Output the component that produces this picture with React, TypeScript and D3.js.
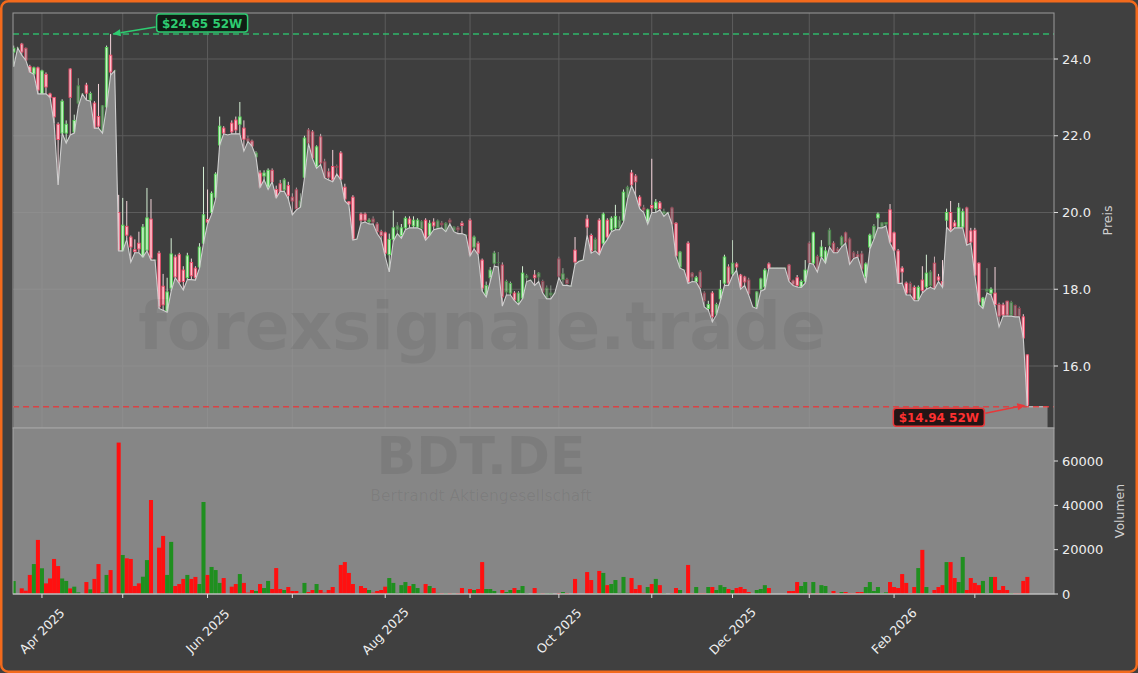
import React from "react";
import * as d3 from "d3";

const OPEN = [24.18,24.29,24.39,24.28,23.80,23.61,23.77,23.09,23.60,23.09,
23.00,22.30,22.07,22.07,23.74,22.10,22.85,23.09,23.32,22.93,
22.85,22.50,22.10,22.75,24.10,23.69,20.00,19.00,19.64,19.36,
19.03,19.20,18.84,19.02,19.83,18.76,18.94,18.08,17.43,18.03,
18.84,18.90,18.50,18.30,18.70,18.55,18.58,19.20,19.82,20.00,
20.40,21.76,22.20,22.02,22.33,22.41,22.30,22.20,21.92,21.86,
21.45,21.03,20.95,20.66,21.10,20.60,20.75,20.59,20.70,20.40,
20.59,20.15,20.92,22.15,22.10,21.19,21.97,21.32,21.06,21.20,
21.20,21.55,20.66,20.28,20.40,19.31,19.96,19.96,19.76,19.83,
19.70,19.50,19.47,18.90,19.30,19.55,19.40,19.60,19.83,19.65,
19.62,19.58,19.80,19.41,19.75,19.60,19.72,19.52,19.80,19.52,
19.60,19.72,19.41,19.80,19.10,19.20,18.76,17.85,18.30,18.68,
18.70,18.63,17.93,17.90,17.90,17.67,17.77,18.30,18.24,18.37,
18.32,18.20,17.77,17.85,17.90,18.79,18.25,18.25,18.08,19.02,
18.73,18.76,19.83,19.40,19.02,19.80,19.20,19.80,19.55,19.60,
19.60,19.80,20.40,21.03,20.95,20.40,20.12,19.75,20.18,20.10,
20.25,19.96,20.00,20.12,19.72,18.58,18.50,19.20,18.42,18.20,
18.45,17.90,17.50,17.90,17.35,17.75,18.16,18.58,18.40,18.66,
18.37,18.32,18.24,17.54,17.54,18.00,18.06,18.66,18.55,18.55,
18.55,18.55,18.63,18.22,18.30,18.06,18.20,19.20,18.68,18.85,
18.85,18.70,19.15,19.20,19.05,19.15,19.47,19.31,18.95,18.90,
18.92,18.32,19.10,19.33,19.86,19.62,19.70,20.07,19.47,19.00,
18.55,18.16,18.15,18.05,17.74,18.24,18.06,18.10,18.68,18.32,
18.20,19.80,20.00,19.73,19.62,19.62,20.12,19.52,19.54,18.68,
17.54,17.95,17.90,17.90,17.60,17.59,17.69,17.33,17.58,17.50,
17.28,16.29];

const HIGH = [24.35,24.29,24.42,24.30,23.85,23.80,23.80,23.72,23.65,23.12,
23.00,22.35,22.95,22.40,23.76,22.55,23.50,23.09,23.38,23.15,
22.90,23.35,22.80,24.35,24.65,23.69,20.46,20.38,20.30,19.40,
19.30,19.50,19.70,20.64,20.35,18.76,19.00,18.40,18.30,19.33,
18.90,18.95,18.60,18.95,18.80,18.60,19.20,21.19,20.60,20.55,
21.05,22.50,22.25,22.02,22.40,22.50,22.88,22.40,22.00,21.90,
21.60,21.10,21.10,21.15,21.15,20.70,20.85,20.90,20.80,20.50,
20.65,20.50,22.00,22.20,22.15,21.75,22.05,21.40,21.15,21.63,
21.25,21.60,20.75,20.30,20.45,19.31,20.00,20.00,19.85,19.90,
19.75,19.55,19.50,19.45,20.05,19.75,19.70,19.90,19.90,19.90,
19.85,19.80,19.85,19.80,19.85,19.82,19.78,19.75,19.85,19.65,
19.65,19.78,19.41,19.85,19.40,19.25,18.80,18.20,18.58,19.00,
18.97,18.70,18.25,18.20,17.95,17.95,18.60,18.40,18.24,18.50,
18.45,18.25,18.10,18.10,17.90,18.85,18.55,18.30,18.08,19.36,
18.73,18.76,19.94,19.45,19.35,19.85,20.00,19.85,19.90,20.20,
19.90,20.60,20.70,21.11,21.00,20.45,20.20,20.10,21.40,20.35,
20.30,20.10,20.00,20.15,19.75,19.00,18.50,19.25,18.45,18.35,
18.50,17.95,17.70,17.95,17.65,18.24,18.90,18.65,19.28,18.70,
18.40,18.35,18.30,17.54,17.95,18.30,18.55,18.70,18.55,18.55,
18.55,18.55,18.66,18.25,18.37,18.25,18.76,19.25,19.50,18.90,
19.28,19.10,19.60,19.25,19.10,19.40,19.50,19.35,19.00,19.00,
19.00,18.70,19.45,19.70,20.00,19.75,19.75,20.22,19.50,19.05,
18.60,18.20,18.20,18.10,18.10,18.60,18.90,18.50,18.85,18.40,
18.76,20.10,20.30,19.80,20.25,20.10,20.15,19.60,19.60,18.70,
17.80,18.55,18.05,18.58,17.65,17.65,17.70,17.70,17.60,17.55,
17.35,16.30];

const LOW = [23.80,24.29,24.10,23.97,23.66,23.60,23.09,23.09,23.09,23.00,
22.33,20.72,22.07,21.81,22.02,22.07,22.75,23.09,22.93,22.90,
22.20,22.20,22.07,22.75,23.58,23.69,19.00,19.00,19.30,18.71,
18.95,18.95,18.84,19.00,18.76,18.76,17.50,17.45,17.40,17.95,
18.30,18.15,17.98,18.25,18.25,18.24,18.55,19.20,19.70,19.95,
20.35,21.76,22.05,22.02,22.05,22.05,22.05,21.60,21.85,21.73,
21.45,20.66,20.85,20.60,20.80,20.38,20.55,20.55,20.35,19.94,
20.07,20.14,20.90,21.80,21.40,21.15,21.25,20.90,20.85,20.80,
21.00,20.85,20.30,20.20,19.28,19.31,19.72,19.75,19.70,19.70,
19.45,19.30,18.85,18.45,19.25,19.45,19.33,19.55,19.60,19.60,
19.60,19.55,19.28,19.40,19.55,19.58,19.60,19.50,19.70,19.50,
19.45,19.45,19.41,18.87,19.05,18.90,17.95,17.80,18.20,18.60,
18.58,17.56,17.85,17.85,17.70,17.60,17.75,18.20,18.24,18.10,
18.20,17.90,17.75,17.75,17.90,18.30,18.10,18.10,18.08,18.65,
18.73,18.76,19.41,18.94,19.00,18.90,19.15,19.30,19.50,19.55,
19.55,19.75,20.35,20.70,20.45,20.10,20.00,19.70,20.00,20.00,
20.07,19.90,20.00,19.70,18.85,18.55,18.50,18.15,18.20,18.19,
18.00,17.54,17.46,17.15,17.33,17.70,18.10,18.10,18.35,18.50,
18.00,18.10,17.85,17.54,17.50,17.95,18.00,18.55,18.55,18.55,
18.55,18.55,18.20,18.10,18.06,18.05,18.16,18.68,18.65,18.45,
18.84,18.68,19.10,18.95,18.95,19.10,19.20,18.65,18.80,18.84,
18.50,18.16,19.05,19.30,19.60,19.60,19.65,19.20,19.00,18.15,
18.16,17.85,17.85,17.70,17.70,17.90,18.00,18.05,18.00,18.20,
18.05,19.62,19.50,19.60,19.60,19.60,19.15,19.20,18.35,17.60,
17.50,17.90,17.85,17.54,17.02,17.30,17.30,17.30,17.28,17.28,
16.73,14.94];

const CLOSE = [24.28,24.29,24.18,23.97,23.66,23.77,23.19,23.69,23.27,23.00,
22.49,21.90,22.90,22.30,23.00,22.40,23.30,23.09,23.11,23.10,
22.20,22.25,22.78,24.30,23.66,23.69,19.02,19.67,19.41,19.10,
18.98,19.05,19.62,19.86,18.81,18.76,17.54,17.59,17.93,18.92,
18.32,18.19,18.20,18.87,18.35,18.30,19.10,19.94,19.75,20.50,
21.00,22.25,22.07,22.02,22.10,22.15,22.49,21.91,21.86,21.73,
21.55,20.66,21.03,21.10,20.80,20.40,20.55,20.85,20.45,20.30,
20.10,20.30,21.94,21.81,21.42,21.71,21.29,20.90,20.92,20.85,
21.18,20.87,20.35,20.22,19.31,19.31,19.80,19.80,19.80,19.75,
19.50,19.40,18.94,19.30,19.60,19.65,19.60,19.85,19.70,19.80,
19.80,19.76,19.31,19.72,19.65,19.78,19.68,19.72,19.75,19.62,
19.55,19.66,19.41,18.89,19.36,18.94,18.03,18.10,18.50,18.94,
18.70,17.80,18.20,18.15,17.72,17.90,18.42,18.35,18.24,18.30,
18.42,17.93,18.03,17.90,17.90,18.34,18.40,18.15,18.08,18.71,
18.73,18.76,19.62,19.00,19.30,18.94,19.96,19.36,19.85,19.90,
19.80,20.53,20.66,20.72,20.80,20.17,20.07,20.07,20.12,20.27,
20.10,20.02,20.00,19.70,18.87,18.97,18.50,18.19,18.32,18.30,
18.05,17.70,17.60,17.28,17.60,18.00,18.84,18.16,18.68,18.58,
18.06,18.19,17.88,17.54,17.93,18.27,18.50,18.55,18.55,18.55,
18.55,18.55,18.24,18.13,18.10,18.20,18.50,18.70,19.47,18.50,
19.10,19.00,19.54,18.97,18.98,19.36,19.23,18.68,18.82,18.85,
18.53,18.66,19.41,19.64,19.96,19.73,19.74,19.23,19.02,18.16,
18.45,17.90,17.90,17.74,18.05,17.97,18.42,18.45,18.03,18.24,
18.08,20.00,19.54,19.64,20.12,20.02,19.20,19.23,18.37,17.67,
17.77,18.00,18.00,17.60,17.30,17.33,17.33,17.65,17.30,17.30,
16.73,14.98];

const VOLUME = [5850,0,2550,1500,8600,13500,24400,11600,4800,7000,
15800,12600,7000,5900,2500,3300,750,0,5400,2100,
6800,13500,750,8600,10800,0,68300,17600,16100,15800,
3600,4800,7800,15300,42400,0,20900,26200,8600,23500,
3600,4500,6800,8600,6800,7700,4500,41500,8600,12200,
10800,5000,7200,0,3300,4500,9000,5000,600,1800,
1350,4500,2700,5900,2250,11700,2250,1800,3150,1350,
1350,500,5000,900,1800,4500,1800,600,1800,3150,
300,13100,14400,9500,4500,0,3600,2700,1800,600,
1350,1800,3300,7200,5000,500,4000,5400,3600,4500,
2700,500,4500,3600,2700,500,400,400,400,200,
400,2700,0,2250,1800,2250,14400,2250,2250,1350,
0,1800,900,1800,2700,1800,3600,450,0,2700,
450,300,300,450,0,450,900,450,0,6800,
0,0,9900,6300,450,10400,9500,4000,4500,6300,
500,7700,500,7200,2250,4000,500,3150,4500,6800,
4000,450,0,450,2700,1800,0,13100,450,3150,
450,450,3150,3150,1800,4000,3150,2250,1800,2700,
3150,2250,900,0,1800,2250,4000,2700,0,0,
0,0,1350,1350,5400,3600,5400,450,5400,450,
4000,3600,450,1350,450,900,900,450,300,900,
900,3150,5400,1350,3150,450,750,5400,3150,2700,
9000,5000,450,3150,11700,19900,3150,450,1800,3150,
4000,14400,14400,7200,5400,16700,1800,7200,5000,4000,
5900,450,7700,7700,1800,3600,1800,450,300,300,
5900,7700];

// the shaded line keeps running at the last value after the final candle
const LINE_TAIL = [14.94, 14.94, 14.94, 14.94, 14.94];

const MONTH_TICK_INDEX = [7, 27, 48, 69, 92, 113, 135, 158, 178, 197, 218, 238];
const MONTH_TICK_LABELS = ["Apr 2025", "", "Jun 2025", "", "Aug 2025", "", "Oct 2025", "", "Dec 2025", "", "Feb 2026", ""];
const PRICE_TICKS = [16, 18, 20, 22, 24];
const VOLUME_TICKS = [0, 20000, 40000, 60000];

const HIGH_52W = 24.65;
const HIGH_52W_INDEX = 24;
const LOW_52W = 14.94;
const LOW_52W_INDEX = 251;

const WATERMARK = "forexsignale.trade";
const TICKER = "BDT.DE";
const COMPANY = "Bertrandt Aktiengesellschaft";

const FONT = "DejaVu Sans, Verdana, sans-serif";

function Arrow({ x1, y1, x2, y2, color }: { x1: number; y1: number; x2: number; y2: number; color: string }) {
  const ang = Math.atan2(y2 - y1, x2 - x1);
  const len = 8, hw = 3.5;
  const bx = x2 - len * Math.cos(ang), by = y2 - len * Math.sin(ang);
  const p1 = [bx + hw * Math.sin(ang), by - hw * Math.cos(ang)];
  const p2 = [bx - hw * Math.sin(ang), by + hw * Math.cos(ang)];
  return (
    <g>
      <line x1={x1} y1={y1} x2={bx} y2={by} stroke={color} strokeWidth={1.6} />
      <polygon points={`${x2},${y2} ${p1[0]},${p1[1]} ${p2[0]},${p2[1]}`} fill={color} />
    </g>
  );
}

export default function App() {
  const W = 1138, H = 673;
  const L = 13, R = 1054, PT = 13, PB = 428, VT = 428, VB = 594;

  const x = d3.scaleLinear().domain([-0.17, 257.6]).range([L, R]);
  const yP = d3.scaleLinear().domain([16, 24]).range([366, 59]);
  const yV = d3.scaleLinear().domain([0, 60000]).range([VB, 461]);
  const step = x(1) - x(0);
  const bw = step * 0.62;

  const lineVals = [...LOW, ...LINE_TAIL];
  const areaGen = d3.area<number>().x((_, i) => x(i)).y0(PB).y1((d) => yP(d));
  const lineGen = d3.line<number>().x((_, i) => x(i)).y((d) => yP(d));

  const upStroke = "#52d152", upFill = "#c6f0c6", upWick = "#d4eed4";
  const dnStroke = "#ee4a68", dnFill = "#ffc2ce", dnWick = "#f3d3d9";
  const green = "#2ecc71";
  const red = "#e8383a";

  const candles = OPEN.map((o, i) => {
    const c = CLOSE[i], h = HIGH[i], l = LOW[i], v = VOLUME[i];
    const up = c >= o;
    const op = v >= 3000 ? 1 : 0.4 + 0.6 * (v / 3000);
    const cx = x(i);
    const top = yP(Math.max(o, c)), bot = yP(Math.min(o, c));
    return (
      <g key={i} opacity={op}>
        <line x1={cx} x2={cx} y1={yP(h)} y2={yP(l)} stroke={up ? upWick : dnWick} strokeWidth={1} />
        <rect x={cx - bw / 2} y={top} width={bw} height={Math.max(0.01, bot - top)}
          fill={up ? upFill : dnFill} stroke={up ? upStroke : dnStroke} strokeWidth={0.9} />
      </g>
    );
  });

  const volBars = VOLUME.map((v, i) => {
    if (v <= 0) return null;
    const up = CLOSE[i] >= OPEN[i];
    return (
      <rect key={i} x={x(i) - step / 2} y={yV(v)} width={step} height={VB - yV(v)}
        fill={up ? "#1f8f1f" : "#ff1010"} />
    );
  });

  const hx = x(HIGH_52W_INDEX), hy = yP(HIGH_52W);
  const lx = x(LOW_52W_INDEX), ly = yP(LOW_52W);
  const boxW = 91, boxH = 18;
  const hbx = hx + 46, hby = hy - 20;
  const lbx = lx - 134, lby = ly + 1.5;

  return (
    <div style={{ position: "fixed", left: 0, top: 0, width: W, height: H }}>
      <svg width={W} height={H} style={{ display: "block" }} fontFamily={FONT}>
        <defs>
          <clipPath id="pclip"><rect x={L} y={PT} width={R - L} height={PB - PT} /></clipPath>
          <clipPath id="vclip"><rect x={L} y={VT} width={R - L} height={VB - VT} /></clipPath>
        </defs>
        <rect x={0} y={0} width={W} height={H} fill="#404040" />

        {/* price panel */}
        <rect x={L} y={PT} width={R - L} height={PB - PT} fill="#3e3e3e" />
        <g clipPath="url(#pclip)">
          {PRICE_TICKS.map((t) => (
            <line key={t} x1={L} x2={R} y1={yP(t)} y2={yP(t)} stroke="#5c5c5c" strokeWidth={1} />
          ))}
          {MONTH_TICK_INDEX.map((t) => (
            <line key={t} x1={x(t)} x2={x(t)} y1={PT} y2={PB} stroke="#5c5c5c" strokeWidth={1} />
          ))}
          {candles}
          <path d={areaGen(lineVals) || ""} fill="#9a9a9a" fillOpacity={0.8} />
          <path d={lineGen(lineVals) || ""} fill="none" stroke="#cfcfcf" strokeWidth={1.1} />
          <line x1={L} x2={R} y1={hy} y2={hy} stroke={green} strokeWidth={1.5} strokeDasharray="6,4" opacity={0.85} />
          <line x1={L} x2={R} y1={ly} y2={ly} stroke={red} strokeWidth={1.5} strokeDasharray="6,4" opacity={0.85} />
          <text x={482} y={349} textAnchor="middle" fontSize={66} fontWeight="bold" fill="#000" fillOpacity={0.065}>{WATERMARK}</text>
        </g>
        <rect x={L} y={PT} width={R - L} height={PB - PT} fill="none" stroke="#9a9a9a" strokeWidth={1} />

        {/* volume panel */}
        <rect x={L} y={VT} width={R - L} height={VB - VT} fill="#868686" />
        <g clipPath="url(#vclip)">
          <text x={481} y={474} textAnchor="middle" fontSize={52} fontWeight="bold" fill="#000" fillOpacity={0.07}>{TICKER}</text>
          <text x={481} y={501} textAnchor="middle" fontSize={15.5} fill="#000" fillOpacity={0.065}>{COMPANY}</text>
          {volBars}
        </g>
        <rect x={L} y={VT} width={R - L} height={VB - VT} fill="none" stroke="#a8a8a8" strokeWidth={1} />
        <line x1={L} x2={R} y1={VB} y2={VB} stroke="#c8c8c8" strokeWidth={1} />

        {/* 52W annotations */}
        <Arrow x1={hbx - 1} y1={hby + 13} x2={hx + 2} y2={hy} color={green} />
        <rect x={hbx} y={hby} width={boxW} height={boxH} rx={3} fill="#0c1a10" fillOpacity={0.92} stroke={green} strokeWidth={1.5} />
        <text x={hbx + boxW / 2} y={hby + boxH / 2 + 0.5} textAnchor="middle" dominantBaseline="central" fontSize={12} fontWeight="bold" fill={green}>
          {`$${HIGH_52W.toFixed(2)} 52W`}
        </text>

        <Arrow x1={lbx + boxW + 1} y1={lby + 5} x2={lx - 2} y2={ly - 1.5} color={red} />
        <rect x={lbx} y={lby} width={boxW} height={boxH} rx={3} fill="#1c0b0b" fillOpacity={0.92} stroke={red} strokeWidth={1.5} />
        <text x={lbx + boxW / 2} y={lby + boxH / 2 + 0.5} textAnchor="middle" dominantBaseline="central" fontSize={12} fontWeight="bold" fill="#ff3030">
          {`$${LOW_52W.toFixed(2)} 52W`}
        </text>

        {/* right price axis */}
        {PRICE_TICKS.map((t) => (
          <g key={t}>
            <line x1={R} x2={R + 4} y1={yP(t)} y2={yP(t)} stroke="#dddddd" />
            <text x={R + 8} y={yP(t)} dominantBaseline="central" fontSize={13} fill="#eeeeee">{t.toFixed(1)}</text>
          </g>
        ))}
        <text transform={`translate(1107,${(PT + PB) / 2}) rotate(-90)`} textAnchor="middle" dominantBaseline="central" fontSize={12.5} fill="#d0d0d0">Preis</text>

        {/* right volume axis */}
        {VOLUME_TICKS.map((t) => (
          <g key={t}>
            <line x1={R} x2={R + 4} y1={yV(t)} y2={yV(t)} stroke="#dddddd" />
            <text x={R + 8} y={yV(t)} dominantBaseline="central" fontSize={13} fill="#eeeeee">{t}</text>
          </g>
        ))}
        <text transform={`translate(1119,${(VT + VB) / 2}) rotate(-90)`} textAnchor="middle" dominantBaseline="central" fontSize={12.5} fill="#d0d0d0">Volumen</text>

        {/* bottom date axis */}
        {MONTH_TICK_INDEX.map((t, k) => (
          <g key={t}>
            <line x1={x(t)} x2={x(t)} y1={VB} y2={VB + 4} stroke="#dddddd" />
            {MONTH_TICK_LABELS[k] && (
              <text transform={`translate(${x(t)},631) rotate(-45)`} textAnchor="middle" dominantBaseline="central" fontSize={12.5} fill="#eeeeee">
                {MONTH_TICK_LABELS[k]}
              </text>
            )}
          </g>
        ))}

        {/* frame */}
        <rect x={1.25} y={1.25} width={W - 2.5} height={H - 2.5} rx={7} fill="none" stroke="#f36a1c" strokeWidth={2.5} />
      </svg>
    </div>
  );
}
